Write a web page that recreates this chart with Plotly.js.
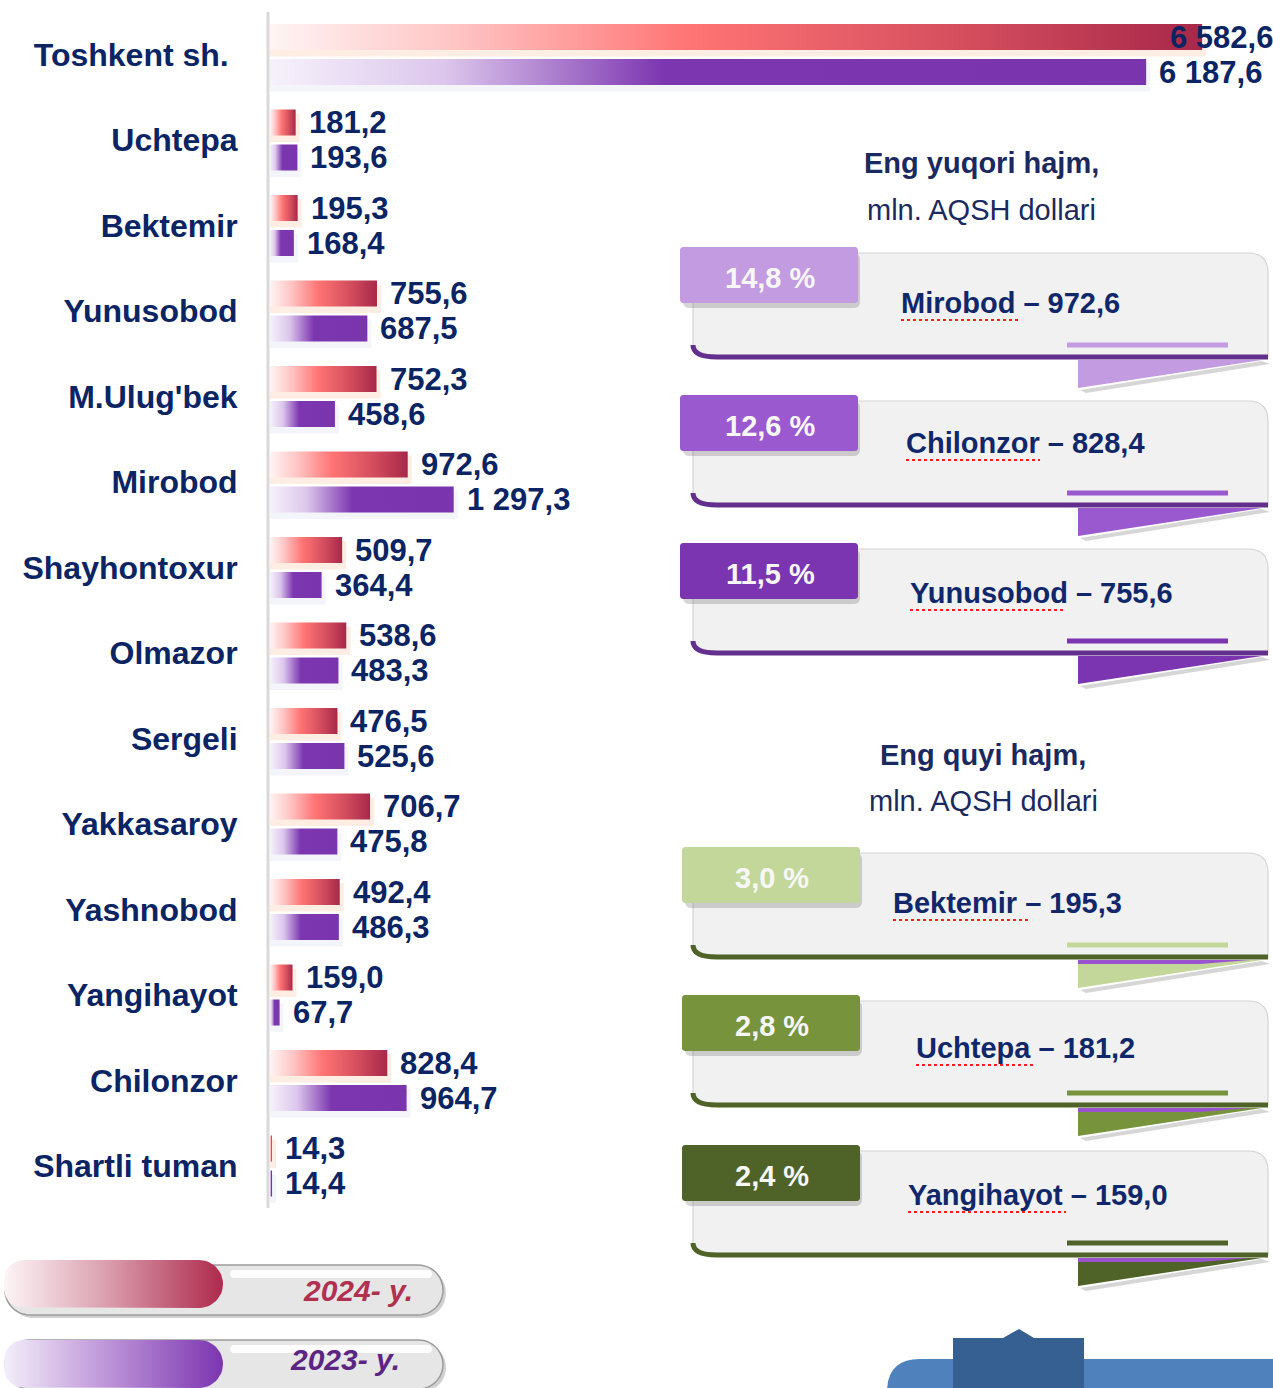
<!DOCTYPE html>
<html><head><meta charset="utf-8">
<script src="https://cdn.plot.ly/plotly-3.0.1.min.js"></script>
<style>html,body{margin:0;padding:0;background:#fff}#chart{width:1273px;height:1388px}</style>
</head><body><div id="chart"></div>
<script>
// ---------------- DATA ----------------
const categories = ['Toshkent sh.', 'Uchtepa', 'Bektemir', 'Yunusobod', "M.Ulug'bek", 'Mirobod', 'Shayhontoxur', 'Olmazor', 'Sergeli', 'Yakkasaroy', 'Yashnobod', 'Yangihayot', 'Chilonzor', 'Shartli tuman'];
const values2024 = [6582.6, 181.2, 195.3, 755.6, 752.3, 972.6, 509.7, 538.6, 476.5, 706.7, 492.4, 159.0, 828.4, 14.3];
const values2023 = [6187.6, 193.6, 168.4, 687.5, 458.6, 1297.3, 364.4, 483.3, 525.6, 475.8, 486.3, 67.7, 964.7, 14.4];
const seriesNames = ['2024- y.', '2023- y.'];
const topTitle = 'Eng yuqori hajm,';
const bottomTitle = 'Eng quyi hajm,';
const unitText = 'mln. AQSH dollari';
const topNames = ['Mirobod', 'Chilonzor', 'Yunusobod'];
const topValues = [972.6, 828.4, 755.6];
const topShares = [14.8, 12.6, 11.5];
const bottomNames = ['Bektemir', 'Uchtepa', 'Yangihayot'];
const bottomValues = [195.3, 181.2, 159.0];
const bottomShares = [3.0, 2.8, 2.4];

// ---------------- STYLE / LAYOUT CONSTANTS ----------------
const W = 1273, H = 1388;
const xStart = 270, pxPerUnit = 0.1416;
const rowPx = 85.5, firstRowPx = 54.5;
const barOff = 17.5 / rowPx, barHalf = 13 / rowPx;
const NAVY = '#0b2463';
const SANS = 'Liberation Sans, Arial, sans-serif';
const redScale = [[0, '#fff4f4'], [0.2, '#ffc4c4'], [0.45, '#ff7474'], [0.75, '#d34d5d'], [1, '#a8284a']];
const purpleScale = [[0, '#f6f1fb'], [0.2, '#dcc6ec'], [0.45, '#7c36b0'], [1, '#7a34ad']];

function fmt(v) {
  const s = v.toFixed(1).split('.');
  const int = s[0].replace(/\B(?=(\d{3})+(?!\d))/g, ' ');
  return int + ',' + s[1];
}

function roundedPts(x0, x1, y0, y1, rl, rr, n) {
  n = n || 10;
  const px = [], py = [];
  const corner = (cx, cy, r, a0, a1) => {
    for (let k = 0; k <= n; k++) {
      const a = a0 + (a1 - a0) * k / n;
      px.push(cx + r * Math.cos(a)); py.push(cy + r * Math.sin(a));
    }
  };
  corner(x1 - rr, y0 + rr, rr, -Math.PI / 2, 0);
  corner(x1 - rr, y1 - rr, rr, 0, Math.PI / 2);
  corner(x0 + rl, y1 - rl, rl, Math.PI / 2, Math.PI);
  corner(x0 + rl, y0 + rl, rl, Math.PI, 1.5 * Math.PI);
  px.push(px[0]); py.push(py[0]);
  return {x: px, y: py};
}
function ptsPath(p) {
  let s = 'M ' + p.x[0].toFixed(1) + ',' + p.y[0].toFixed(1);
  for (let k = 1; k < p.x.length; k++) s += ' L ' + p.x[k].toFixed(1) + ',' + p.y[k].toFixed(1);
  return s + ' Z';
}

const traces = [];
const annotations = [];
const shapes = [];

// ---------------- BARS ----------------
const seriesVals = [values2024, values2023];
const seriesScale = [redScale, purpleScale];
const glow = ['rgba(250,190,150,0.28)', 'rgba(200,210,230,0.22)'];
seriesVals.forEach((vals, s) => {
  vals.forEach((v, i) => {
    const yc = i + (s === 0 ? -barOff : barOff);
    const gx = 4 / pxPerUnit, gy = 4 / rowPx;
    traces.push({
      type: 'scatter', mode: 'lines', xaxis: 'x', yaxis: 'y',
      x: [0, v + gx, v + gx, 0, 0],
      y: [yc - barHalf + gy, yc - barHalf + gy, yc + barHalf + 1.6 * gy, yc + barHalf + 1.6 * gy, yc - barHalf + gy],
      fill: 'toself', fillcolor: glow[s], line: {width: 0, color: 'rgba(0,0,0,0)'},
      hoverinfo: 'skip', showlegend: false
    });
    traces.push({
      type: 'scatter', mode: 'lines', xaxis: 'x', yaxis: 'y',
      name: seriesNames[s],
      x: [0, v, v, 0, 0],
      y: [yc - barHalf, yc - barHalf, yc + barHalf, yc + barHalf, yc - barHalf],
      fill: 'toself', line: {width: 0, color: 'rgba(0,0,0,0)'},
      fillgradient: {type: 'horizontal', colorscale: seriesScale[s]},
      hoverinfo: 'skip', showlegend: false
    });
    const clamp = xStart + v * pxPerUnit + 110 > W;
    annotations.push({
      xref: clamp ? 'x2' : 'x', yref: 'y',
      x: clamp ? W : v, y: yc,
      xanchor: clamp ? 'right' : 'left', xshift: clamp ? 2 : 11,
      yanchor: 'middle', showarrow: false, text: fmt(v),
      font: {family: SANS, size: 31, color: NAVY, weight: 'bold'}
    });
  });
});

// axis line (grey vertical)
shapes.push({type: 'line', xref: 'x2', yref: 'y2', x0: 268, x1: 268, y0: 12, y1: 1208,
  line: {color: '#d9d9d9', width: 3}, layer: 'below'});

// ---------------- LEGEND PILLS ----------------
const legendCfg = [
  {y0: 1260, y1: 1308, oy0: 1265, oy1: 1315, scale: [[0, '#fcf5f7'], [0.45, '#dca2b1'], [1, '#ae2a4c']], color: '#b0304f', tx: 415, ty: 1290},
  {y0: 1340, y1: 1388, oy0: 1340, oy1: 1389, scale: [[0, '#f4eefa'], [0.45, '#bf98da'], [1, '#7c35b0']], color: '#5c2584', tx: 402, ty: 1359}
];
legendCfg.forEach((c, k) => {
  const rO = (c.oy1 - c.oy0) / 2;
  shapes.push({type: 'path', xref: 'x2', yref: 'y2', layer: 'below',
    path: ptsPath(roundedPts(8, 446, c.oy0 + 3, c.oy1 + 3, rO, rO, 12)),
    fillcolor: 'rgba(150,150,150,0.45)', line: {width: 0}});
  shapes.push({type: 'path', xref: 'x2', yref: 'y2', layer: 'below',
    path: ptsPath(roundedPts(5, 443, c.oy0, c.oy1, rO, rO, 12)),
    fillcolor: '#e6e6e6', line: {color: '#9c9c9c', width: 1.5}});
  shapes.push({type: 'path', xref: 'x2', yref: 'y2', layer: 'below',
    path: ptsPath(roundedPts(230, 432, c.oy0 + 5, c.oy0 + 13, 4, 4, 6)),
    fillcolor: 'rgba(255,255,255,0.9)', line: {width: 0}});
  const p = roundedPts(4, 223, c.y0, c.y1, 20, (c.y1 - c.y0) / 2, 12);
  traces.push({type: 'scatter', mode: 'lines', xaxis: 'x2', yaxis: 'y2', x: p.x, y: p.y,
    fill: 'toself', line: {width: 0, color: 'rgba(0,0,0,0)'},
    fillgradient: {type: 'horizontal', colorscale: c.scale}, hoverinfo: 'skip', showlegend: false});
  annotations.push({xref: 'x2', yref: 'y2', x: c.tx, y: c.ty, xanchor: 'right', yanchor: 'middle',
    showarrow: false, text: seriesNames[k],
    font: {family: SANS, size: 30, color: c.color, weight: 'bold', style: 'italic'}});
});

// ---------------- RIGHT PANELS ----------------
function panel(tabTop, tabX0, tabX1, tabColor, lineColor, pctText, label, textX, textY, ulW, extraStrip) {
  const bodyTop = tabTop + 6, bot = tabTop + 110;
  const L = 693, R = 1268;
  shapes.push({type: 'path', xref: 'x2', yref: 'y2', layer: 'below',
    path: `M ${L},${bodyTop} L ${R - 20},${bodyTop} Q ${R},${bodyTop} ${R},${bodyTop + 20} L ${R},${bot} L ${L + 24},${bot} Q ${L},${bot} ${L},${bot - 12} Z`,
    fillcolor: '#f1f1f1', line: {color: '#d4d4d4', width: 1.2}});
  shapes.push({type: 'path', xref: 'x2', yref: 'y2', layer: 'below',
    path: `M ${L},${bot - 12} Q ${L},${bot} ${L + 24},${bot} L ${R},${bot}`,
    line: {color: lineColor, width: 5}});
  shapes.push({type: 'line', xref: 'x2', yref: 'y2', layer: 'below',
    x0: 1067, x1: 1228, y0: bot - 12, y1: bot - 12, line: {color: tabColor, width: 5}});
  shapes.push({type: 'path', xref: 'x2', yref: 'y2', layer: 'below',
    path: `M 1080,${bot + 33} L 1262,${bot + 4} L 1270,${bot + 7} L 1086,${bot + 36} Z`,
    fillcolor: 'rgba(120,120,120,0.3)', line: {width: 0}});
  shapes.push({type: 'path', xref: 'x2', yref: 'y2', layer: 'below',
    path: `M 1078,${bot + 3} L 1262,${bot + 3} L 1078,${bot + 31} Z`,
    fillcolor: tabColor, line: {width: 0}});
  if (extraStrip) {
    shapes.push({type: 'path', xref: 'x2', yref: 'y2', layer: 'below',
      path: `M 1078,${bot + 3} L 1250,${bot + 3} L 1200,${bot + 7} L 1078,${bot + 7} Z`,
      fillcolor: '#9a52cf', line: {width: 0}});
  }
  shapes.push({type: 'path', xref: 'x2', yref: 'y2', layer: 'below',
    path: ptsPath(roundedPts(tabX0 + 3, tabX1 + 2, tabTop + 6, tabTop + 61, 6, 6, 5)),
    fillcolor: 'rgba(90,90,90,0.25)', line: {width: 0}});
  shapes.push({type: 'path', xref: 'x2', yref: 'y2', layer: 'below',
    path: ptsPath(roundedPts(tabX0, tabX1, tabTop, tabTop + 56, 3, 3, 4)),
    fillcolor: tabColor, line: {width: 0}});
  annotations.push({xref: 'x2', yref: 'y2', x: (tabX0 + tabX1) / 2 + 1, y: tabTop + 31,
    xanchor: 'center', yanchor: 'middle', showarrow: false, text: pctText,
    font: {family: SANS, size: 29, color: '#f7f7f7', weight: 'bold'}});
  annotations.push({xref: 'x2', yref: 'y2', x: textX, y: textY,
    xanchor: 'left', yanchor: 'middle', showarrow: false, text: label,
    font: {family: SANS, size: 29, color: '#10286a', weight: 'bold'}});
  shapes.push({type: 'line', xref: 'x2', yref: 'y2', layer: 'above',
    x0: textX + 2, x1: textX + ulW, y0: textY + 17, y1: textY + 17,
    line: {color: '#ff1a1a', width: 2, dash: 'dot'}});
}

const topTabTop = [247, 395, 543];
const topTextX = [899, 904, 908];
const topTextDY = [56, 48, 50];
const topUl = [120, 136, 158];
const topTabColors = ['#c29be0', '#9b59d0', '#7b35b0'];
topNames.forEach((n, k) => {
  panel(topTabTop[k], 680, 858, topTabColors[k], '#62308c', fmt(topShares[k]) + ' %',
    n + ' – ' + fmt(topValues[k]), topTextX[k], topTabTop[k] + topTextDY[k], topUl[k], false);
});
const botTabTop = [847, 995, 1145];
const botTextX = [891, 914, 906];
const botTextDY = [56, 53, 50];
const botUl = [140, 120, 160];
const botTabColors = ['#c4d79b', '#77933c', '#4f6228'];
bottomNames.forEach((n, k) => {
  panel(botTabTop[k], 682, 860, botTabColors[k], '#4f6228', fmt(bottomShares[k]) + ' %',
    n + ' – ' + fmt(bottomValues[k]), botTextX[k], botTabTop[k] + botTextDY[k], botUl[k], true);
});

// section titles
[[topTitle, 981, 163, true], [unitText, 981, 210, false], [bottomTitle, 983, 755, true], [unitText, 983, 801, false]].forEach(t => {
  annotations.push({xref: 'x2', yref: 'y2', x: t[1], y: t[2], xanchor: 'center', yanchor: 'middle',
    showarrow: false, text: t[0],
    font: {family: SANS, size: 29, color: '#1b2a5e', weight: t[3] ? 'bold' : 'normal'}});
});

// bottom-right blue decoration
shapes.push({type: 'path', xref: 'x2', yref: 'y2', layer: 'below',
  path: 'M 887,1392 L 887,1392 Q 887,1359 920,1359 L 1275,1359 L 1275,1392 Z',
  fillcolor: '#4f81bd', line: {width: 0}});
shapes.push({type: 'path', xref: 'x2', yref: 'y2', layer: 'below',
  path: 'M 953,1392 L 953,1338 L 1003,1338 L 1019,1329 L 1034,1338 L 1084,1338 L 1084,1392 Z',
  fillcolor: '#376092', line: {width: 0}});

traces.push({type: 'scatter', mode: 'markers', xaxis: 'x2', yaxis: 'y2', x: [0], y: [0],
  marker: {size: 1, color: 'rgba(0,0,0,0)'}, hoverinfo: 'skip', showlegend: false});

const layout = {
  width: W, height: H,
  margin: {l: 0, r: 0, t: 0, b: 0, pad: 0},
  paper_bgcolor: '#ffffff', plot_bgcolor: 'rgba(0,0,0,0)',
  showlegend: false,
  xaxis: {domain: [xStart / W, 1], range: [0, (W - xStart) / pxPerUnit], visible: false, fixedrange: true},
  yaxis: {
    domain: [0, 1], range: [(H - firstRowPx) / rowPx, -firstRowPx / rowPx],
    tickmode: 'array', tickvals: categories.map((c, i) => i),
    ticktext: categories.map((c, i) => i === 0 ? c + '\u00a0' : c),
    ticks: 'outside', ticklen: 25, tickcolor: 'rgba(0,0,0,0)',
    tickfont: {family: SANS, size: 32, color: NAVY, weight: 'bold'},
    showgrid: false, zeroline: false, showline: false, fixedrange: true
  },
  xaxis2: {domain: [0, 1], range: [0, W], anchor: 'y2', visible: false, fixedrange: true},
  yaxis2: {domain: [0, 1], range: [H, 0], anchor: 'x2', visible: false, fixedrange: true},
  shapes: shapes,
  annotations: annotations
};

Plotly.newPlot('chart', traces, layout, {displayModeBar: false, staticPlot: true});
</script>
</body></html>
